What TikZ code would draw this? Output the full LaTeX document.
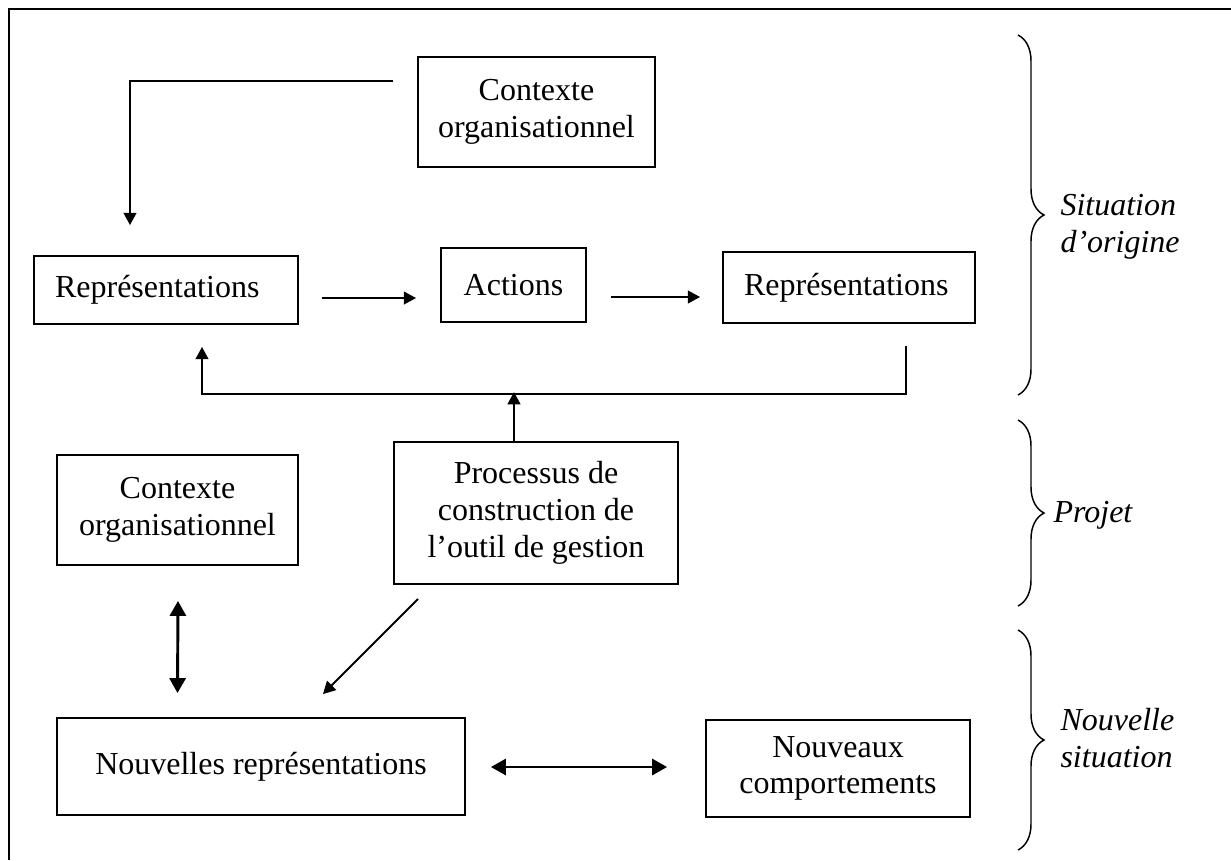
\documentclass[tikz,border=0pt]{standalone}
\usepackage{fontspec}
\setmainfont{Liberation Serif}
\usetikzlibrary{arrows.meta,calc,decorations.pathreplacing}

\tikzset{
  box/.style={draw, line width=0.7pt, inner sep=0pt, align=center},
  lbox/.style={box, align=left, inner xsep=7.9pt},
  lbl/.style={font=\fontsize{12}{13.8}\selectfont\itshape, align=left, anchor=west, inner sep=0pt},
  link/.style={line width=0.7pt, -{Triangle[length=4.6pt,width=4.8pt]}},
  twoway/.style={line width=1.1pt, {Triangle[length=5.6pt,width=6pt]}-{Triangle[length=5.6pt,width=6pt]}},
  bracket/.style={decorate, decoration={brace, amplitude=9.75pt}, line width=0.55pt}
}

\begin{document}
\begin{tikzpicture}[x=0.375pt, y=-0.375pt, font=\fontsize{12}{13.8}\selectfont]
  % --- Page of 1231 x 860 units, y counted downwards ---
  \def\W{1231}\def\H{860}
  \useasboundingbox (0,0) rectangle (\W,\H);

  % Border (open on the right and at the bottom)
  \draw[line width=0.75pt] (\W,9) -- (9,9) -- (9,\H);

  % Situation d'origine
  \node[box, minimum width=88.9pt, minimum height=41.25pt] (ctxA) at (536.5,112) {Contexte\\organisationnel};
  \node[lbox, text width=83.2pt, minimum height=25.5pt] (repA) at (166,290) {Représentations};
  \node[box, minimum width=54.4pt, minimum height=27.75pt] (act) at (513.5,285) {Actions};
  \node[lbox, text width=78.7pt, minimum height=26.6pt] (repB) at (849,287.5) {Représentations};

  % Projet
  \node[box, minimum width=90.4pt, minimum height=41.25pt] (ctxB) at (177.5,510) {Contexte\\organisationnel};
  \node[box, minimum width=106.5pt, minimum height=53.25pt] (proc) at (536,513) {Processus de\\construction de\\l’outil de gestion};

  % Nouvelle situation
  \node[box, minimum width=153pt, minimum height=36.4pt] (newrep) at (261,766.5) {Nouvelles représentations};
  \node[box, minimum width=99pt, minimum height=36.4pt] (newbeh) at (838,768.5) {Nouveaux\\comportements};

  % Arrows
  \draw[link] ([shift={(-24,-31)}]ctxA.west) -| ([shift={(-36,-30)}]repA.north);
  \draw[link] ([shift={(23,8)}]repA.east) -- ([shift={(-24,13)}]act.west);
  \draw[link] ([shift={(24,12)}]act.east) -- ([shift={(-22,9.5)}]repB.west);
  \coordinate (fb) at ([shift={(57,70)}]repB.south);
  \draw[link] ([shift={(57,22)}]repB.south) -- (fb) -| ([shift={(36,22)}]repA.south);
  \draw[link] ([shift={(-22,0)}]proc.north) -- ++(0,-49);
  \draw[link] ([shift={(-118,14)}]proc.south) -- ([shift={(62,-23)}]newrep.north);
  \draw[twoway] ([shift={(0.5,35)}]ctxB.south) -- ([shift={(-83.5,-24)}]newrep.north);
  \draw[twoway] ([shift={(25,0.5)}]newrep.east) -- ([shift={(-38,-1.5)}]newbeh.west);

  % Braces and their labels
  \draw[bracket] (1018,35) -- (1018,395);
  \draw[bracket] (1018,420) -- (1018,606);
  \draw[bracket] (1018,630) -- (1018,850);
  \node[lbl] (orig) at (1060,227) {Situation\\d’origine};
  \node[lbl] (proj) at (1053,515) {Projet};
  \node[lbl] (nouv) at (1060,738) {Nouvelle\\situation};
\end{tikzpicture}
\end{document}
